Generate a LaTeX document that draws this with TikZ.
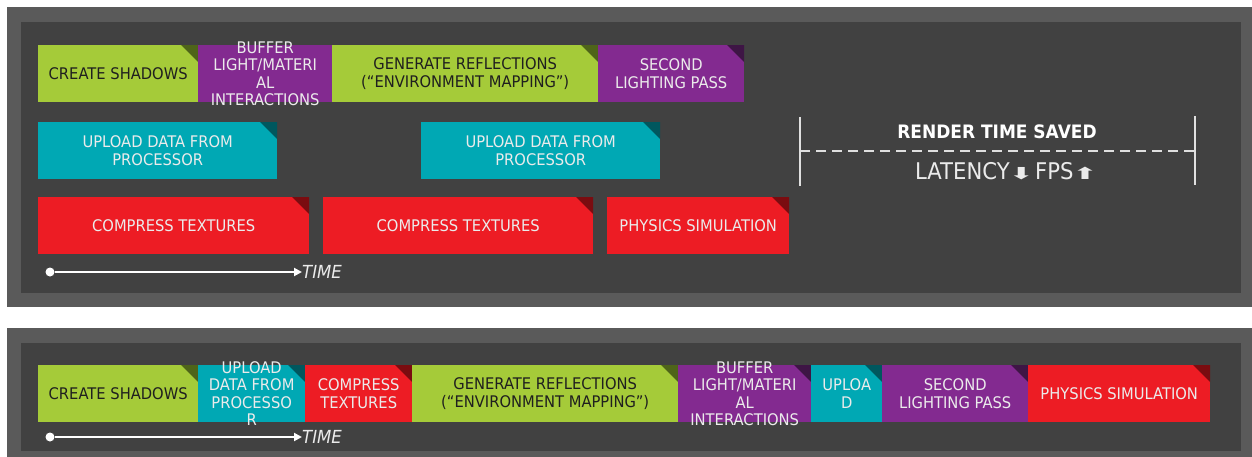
\documentclass[tikz,border=0pt]{standalone}
\usepackage{fontspec}
\setmainfont{DejaVu Sans}[FakeStretch=0.92]
\usetikzlibrary{arrows.meta, positioning}

\definecolor{panelout}{HTML}{5A5A5A}
\definecolor{panelin}{HTML}{414141}
\definecolor{shgreen}{HTML}{A5CB39}
\definecolor{shgreenD}{HTML}{4E6419}
\definecolor{shpurple}{HTML}{832A90}
\definecolor{shpurpleD}{HTML}{3E1545}
\definecolor{shteal}{HTML}{00A8B4}
\definecolor{shtealD}{HTML}{00575E}
\definecolor{shred}{HTML}{ED1C24}
\definecolor{shredD}{HTML}{7A0C10}

\newcommand\tasksize{\fontsize{16}{17.5}\selectfont}
\newcommand\blockarrow[1]{\kern-1pt{\fontsize{15}{15}\selectfont\scalebox{2.2}[1.1]{#1}}\kern1pt}

\tikzset{task/.style={rectangle,inner sep=0pt,minimum height=57pt,anchor=north west},
    fold/.style={path picture={\fill[#1] ([xshift=-17pt]path picture bounding box.north east)
        -- (path picture bounding box.north east) -- ([yshift=-17pt]path picture bounding box.north east) -- cycle;}},
    green task/.style={task,fill=shgreen,fold=shgreenD},
    purple task/.style={task,fill=shpurple,fold=shpurpleD},
    plain purple task/.style={task,fill=shpurple},
    teal task/.style={task,fill=shteal,fold=shtealD},
    red task/.style={task,fill=shred,fold=shredD},
    dark label/.style={text=black!88,align=center,font=\tasksize},
    light label/.style={text=white!92!black,align=center,font=\tasksize},
    time arrow/.style={draw=white,line width=2.6pt,-{Triangle[length=8pt,width=8pt]}},
    time dot/.style={circle,fill=white,inner sep=0pt,minimum size=9pt},
    time label/.style={text=white!92!black,font=\itshape\fontsize{18}{20}\selectfont,anchor=west,inner sep=0pt},
    saved line/.style={draw=white!88!black,line width=1.5pt}}

\begin{document}
\begin{tikzpicture}[x=1pt,y=-1pt]
\useasboundingbox (0,0) rectangle (1252,457);

% Draw the two panels
\fill[panelout] (7,7) rectangle (1252,307);
\fill[panelin] (21,22) rectangle (1241,293);
\fill[panelout] (7,328) rectangle (1252,457);
\fill[panelin] (21,343) rectangle (1241,451);

% Top panel: first row
\node[green task,minimum width=160pt] (shadows) at (38,45) {};
\node[plain purple task,minimum width=134pt] (buffer) at (198,45) {};
\node[green task,minimum width=266pt] (reflect) at (332,45) {};
\node[purple task,minimum width=146pt] (second) at (598,45) {};
\node[dark label] (shadows-t) at (shadows) {CREATE SHADOWS};
\node[light label] (buffer-t) at (buffer) {BUFFER\\LIGHT/MATERI\\AL\\INTERACTIONS};
\node[dark label] (reflect-t) at (reflect) {GENERATE REFLECTIONS\\(“ENVIRONMENT MAPPING”)};
\node[light label] (second-t) at (second) {SECOND\\LIGHTING PASS};

% Top panel: second row
\node[teal task,minimum width=239pt] (upload) at (38,122) {};
\node[teal task,minimum width=239pt] (upload2) at (421,122) {};
\node[light label] (upload-t) at (upload) {UPLOAD DATA FROM\\PROCESSOR};
\node[light label] (upload2-t) at (upload2) {UPLOAD DATA FROM\\PROCESSOR};

% Top panel: third row
\node[red task,minimum width=271pt] (compress) at (38,197) {};
\node[red task,minimum width=270pt] (compress2) at (323,197) {};
\node[red task,minimum width=182pt] (physics) at (607,197) {};
\node[light label] (compress-t) at (compress) {COMPRESS TEXTURES};
\node[light label] (compress2-t) at (compress2) {COMPRESS TEXTURES};
\node[light label] (physics-t) at (physics) {PHYSICS SIMULATION};

% Time axis (top)
\node[time dot] (t0) at (50,272) {};
\node[time label] (time) at (302,272) {TIME};
\draw[time arrow] (t0) -- (time.west);

% Render time saved
\coordinate (left-top) at (800,117);
\coordinate (left-bot) at (800,186);
\coordinate (left-mid) at (800,151);
\coordinate (right-top) at (1195,116);
\coordinate (right-bot) at (1195,185);
\coordinate (right-mid) at (1195,151);
\draw[saved line] (left-top) -- (left-bot);
\draw[saved line] (right-top) -- (right-bot);
\draw[saved line,dash pattern=on 10pt off 6pt] (left-mid) -- (right-mid);
\node[text=white,font=\bfseries\fontsize{18.5}{20}\selectfont] (saved) at (997,132) {RENDER TIME SAVED};
\node[text=white!92!black,font=\fontsize{23}{25}\selectfont] (fps) at (1007,171)
    {LATENCY\blockarrow{⬇} FPS\blockarrow{⬆}};

% Bottom panel: one row
\node[green task,minimum width=160pt] (b-shadows) at (38,365) {};
\node[teal task,minimum width=107pt] (b-upload) at (198,365) {};
\node[red task,minimum width=107pt] (b-compress) at (305,365) {};
\node[green task,minimum width=266pt] (b-reflect) at (412,365) {};
\node[purple task,minimum width=133pt] (b-buffer) at (678,365) {};
\node[teal task,minimum width=71pt] (b-upload2) at (811,365) {};
\node[purple task,minimum width=146pt] (b-second) at (882,365) {};
\node[red task,minimum width=182pt] (b-physics) at (1028,365) {};
\node[dark label] (b-shadows-t) at (b-shadows) {CREATE SHADOWS};
\node[light label] (b-upload-t) at (b-upload) {UPLOAD\\DATA FROM\\PROCESSO\\R};
\node[light label] (b-compress-t) at (b-compress) {COMPRESS\\TEXTURES};
\node[dark label] (b-reflect-t) at (b-reflect) {GENERATE REFLECTIONS\\(“ENVIRONMENT MAPPING”)};
\node[light label] (b-buffer-t) at (b-buffer) {BUFFER\\LIGHT/MATERI\\AL\\INTERACTIONS};
\node[light label] (b-upload2-t) at (b-upload2) {UPLOA\\D};
\node[light label] (b-second-t) at (b-second) {SECOND\\LIGHTING PASS};
\node[light label] (b-physics-t) at (b-physics) {PHYSICS SIMULATION};

% Time axis (bottom)
\node[time dot] (b-t0) at (50,437) {};
\node[time label] (b-time) at (302,437) {TIME};
\draw[time arrow] (b-t0) -- (b-time.west);
\end{tikzpicture}
\end{document}
